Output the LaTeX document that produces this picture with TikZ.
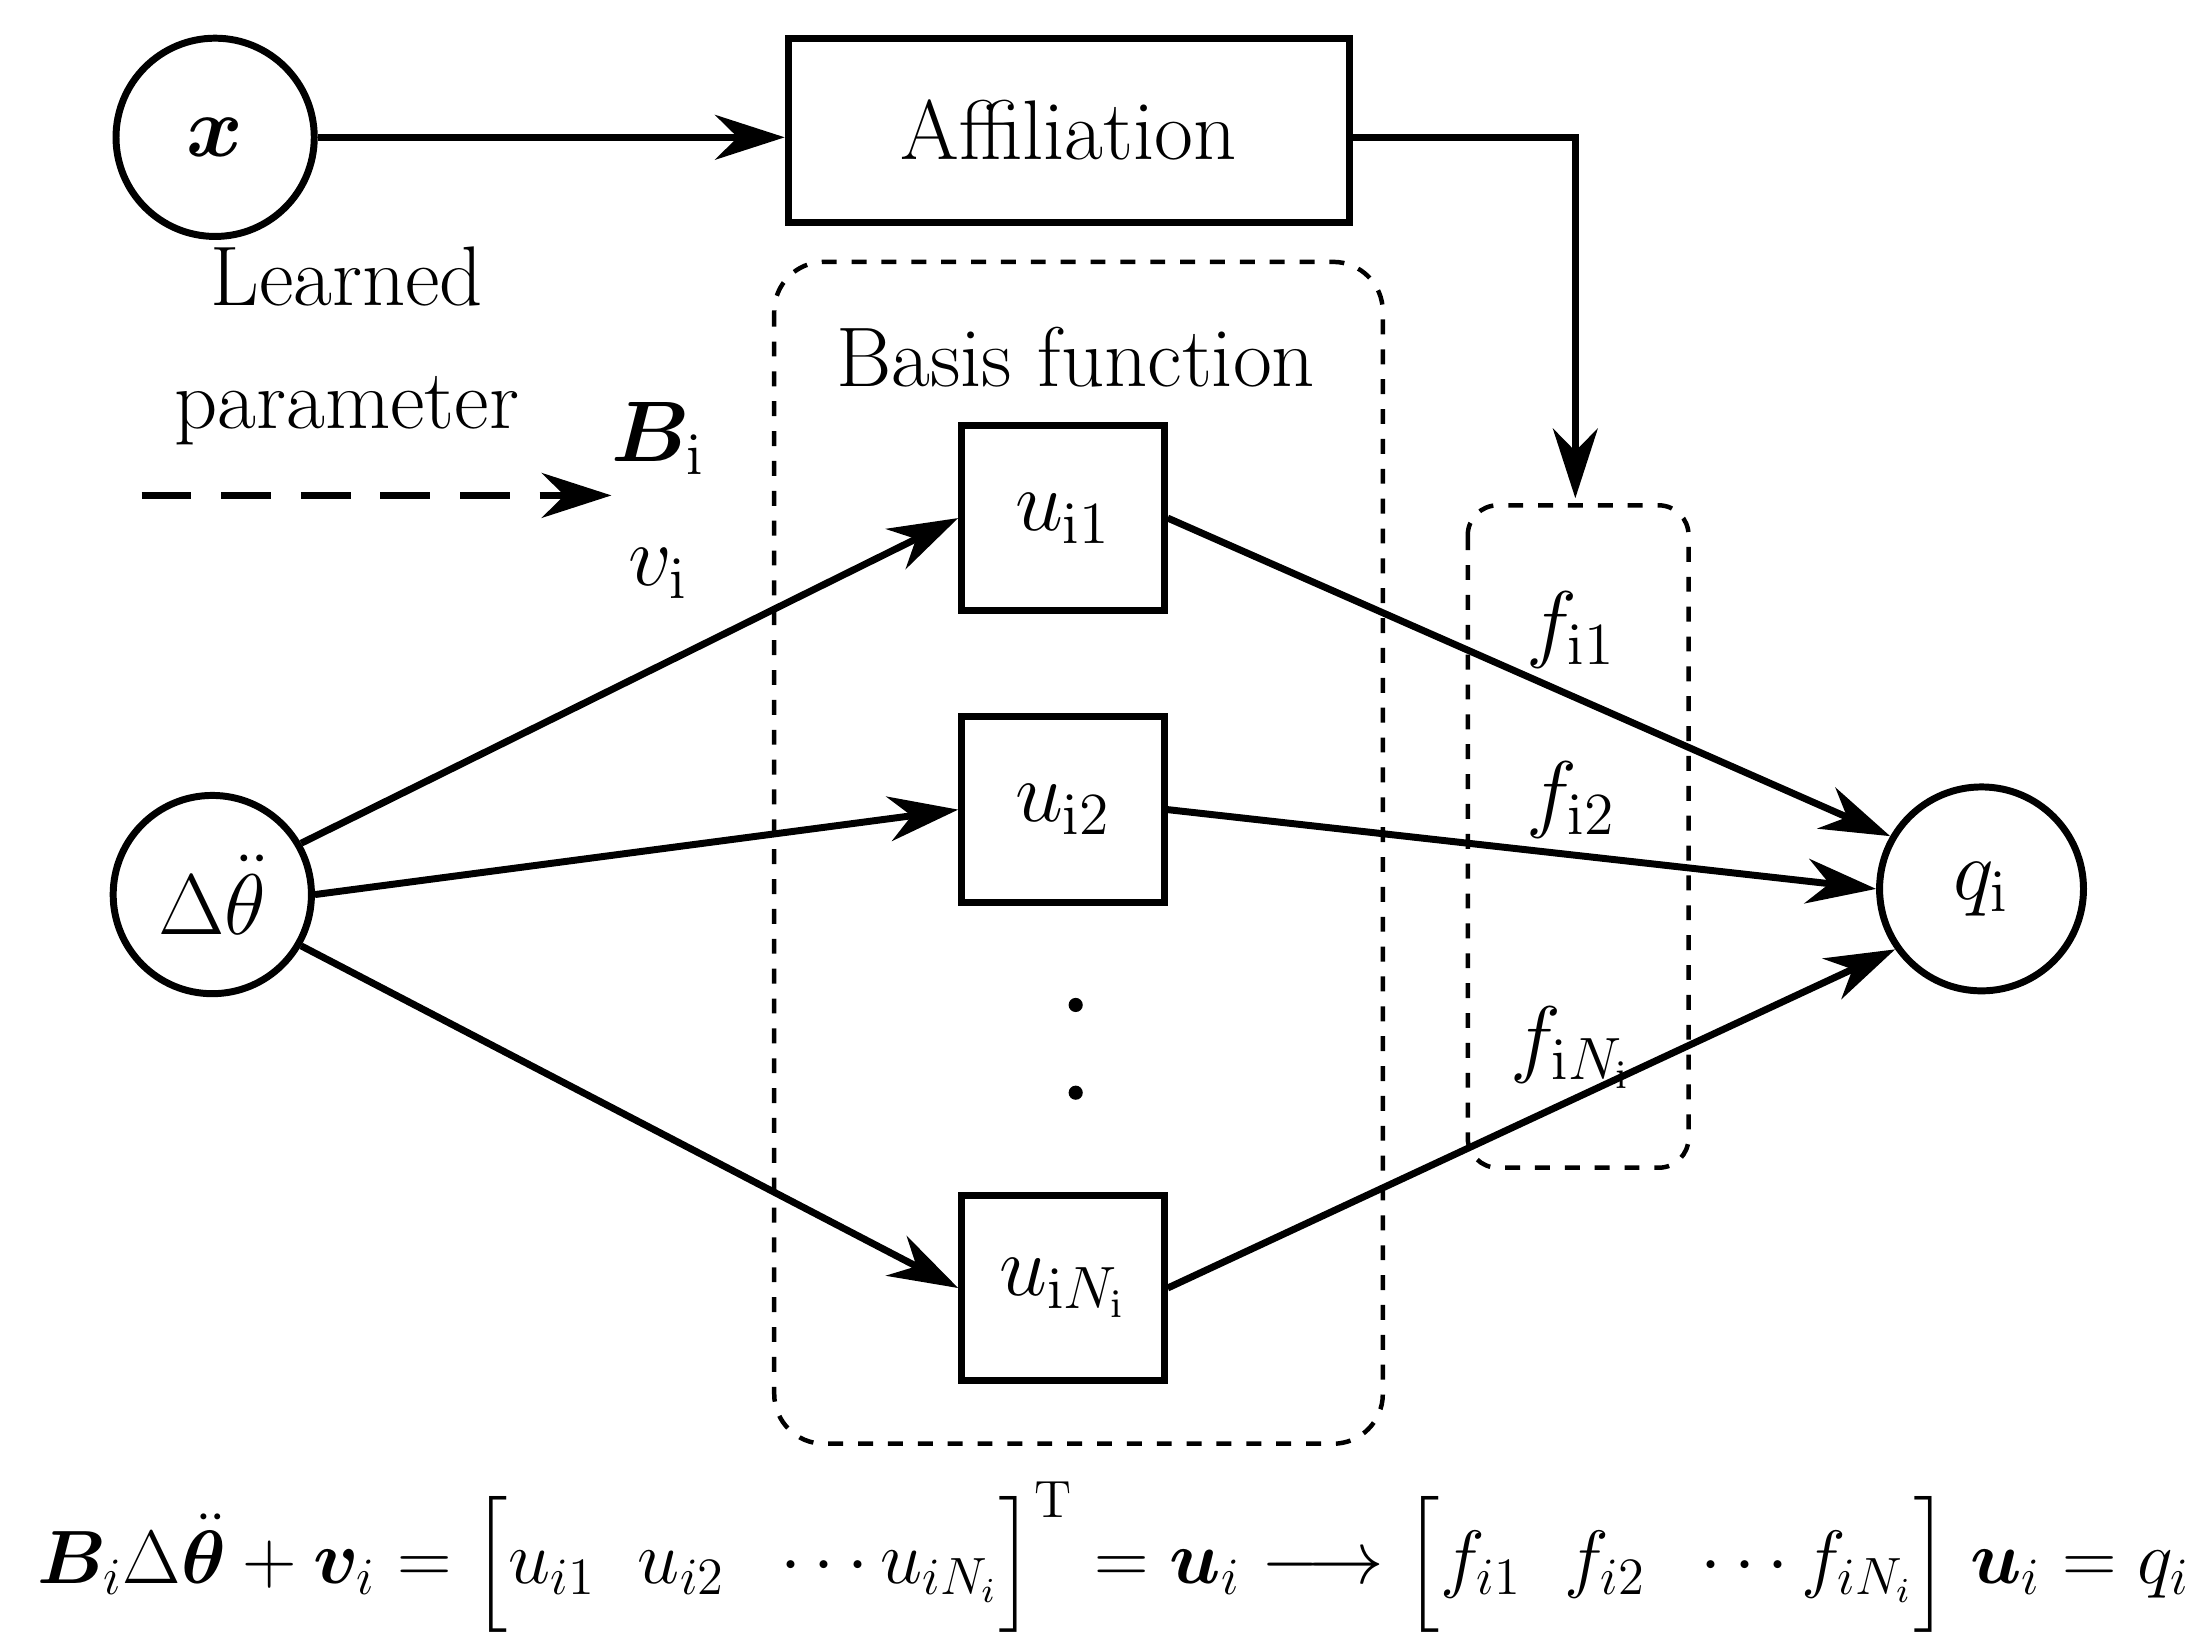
\documentclass[tikz,border=0pt]{standalone}
\usepackage{amsmath,bm,graphicx}
\usetikzlibrary{arrows.meta}
\begin{document}
\begin{tikzpicture}[x=0.01cm,y=-0.01cm,
  font=\fontsize{17}{20}\selectfont,
  circ/.style={draw,line width=1.4pt,circle,minimum size=1.4cm,inner sep=0},
  box/.style={draw,line width=1.4pt,minimum width=1.43cm,minimum height=1.31cm,inner sep=0},
  arr/.style={line width=1.4pt,-{Stealth[length=14pt,width=9pt]}},
  dbox/.style={draw,dashed,line width=0.9pt,rounded corners=10pt}]
\useasboundingbox (0,0) rectangle (1560,1159);
\node[circ] (x) at (152,97) {$\bm{x}$};
\node[draw,line width=1.4pt,minimum width=3.96cm,minimum height=1.3cm] (aff) at (755,92) {Affiliation};
\draw[arr] (x) -- (aff.west|-x);
\coordinate (fa) at (1113,352);
\draw[arr] (aff.east|-0,97) -| (fa);
\node (l1) at (245,195) {Learned};
\node (l2) at (245,290) {parameter};
\node (B) at (465,310) {$\bm{B}_{\mathrm{i}}$};
\node (v) at (465,405) {$v_{\mathrm{i}}$};
\coordinate (d1) at (100,350); \coordinate (d2) at (432,350);
\draw[line width=1.4pt,dashed,dash pattern=on 10pt off 6pt,-{Stealth[length=14pt,width=9pt]}] (d1) -- (d2);
\draw[dbox] (547,185) rectangle (977,1020);
\node (bf) at (760,252) {Basis function};
\node[box] (u1) at (751,366) {$u_{\mathrm{i}1}$};
\node[box] (u2) at (751,572) {$u_{\mathrm{i}2}$};
\node[box] (uN) at (751,910) {$u_{\mathrm{i}N_{\mathrm{i}}}$};
\fill (760,710) circle (5); \fill (760,772) circle (5);
\node[circ] (th) at (150,632) {$\Delta\ddot\theta$};
\node[circ,minimum size=1.44cm] (q) at (1400,628) {$q_{\mathrm{i}}$};
\draw[dbox,rounded corners=6pt] (1037,357) rectangle (1193,825);
\node at (1110,445) {$f_{\mathrm{i}1}$};
\node at (1110,565) {$f_{\mathrm{i}2}$};
\node at (1110,740) {$f_{\mathrm{i}N_{\mathrm{i}}}$};
\draw[arr] (th.30) -- (u1.west);
\draw[arr] (th.east) -- (u2.west);
\draw[arr] (th.-30) -- (uN.west);
\draw[arr] (u1.east) -- (q.150);
\draw[arr] (u2.east) -- (q.180);
\draw[arr] (uN.east) -- (q.215);
\node (eq) at (787,1100) {\resizebox{15.2cm}{!}{$\bm{B}_i\Delta\ddot{\bm\theta}+\bm{v}_i=\Big[u_{i1}\;\; u_{i2}\;\;\cdots u_{iN_i}\Big]^{\mathrm{T}}=\bm{u}_i\longrightarrow\Big[f_{i1}\;\; f_{i2}\;\;\cdots f_{iN_i}\Big]\;\bm{u}_i=q_i$}};
\end{tikzpicture}
\end{document}
